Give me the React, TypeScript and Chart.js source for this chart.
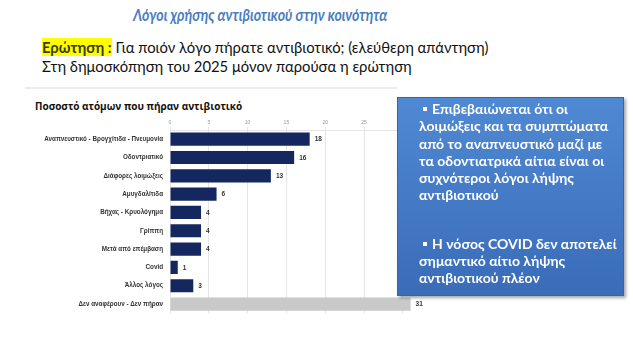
import { useEffect, useRef } from "react";
import { Chart, registerables } from "chart.js";

Chart.register(...registerables);

const categories = [
  "Αναπνευστικό - Βρογχίτιδα - Πνευμονία",
  "Οδοντριατικό",
  "Διάφορες λοιμώξεις",
  "Αμυγδαλίτιδα",
  "Βήχας - Κρυολόγημα",
  "Γρίππη",
  "Μετά από επέμβαση",
  "Covid",
  "Άλλος λόγος",
  "Δεν αναφέρουν - Δεν πήραν",
];
const values = [18, 16, 13, 6, 4, 4, 4, 1, 3, 31];
const xMax = 35;
const xStep = 5;

const pageTitle = "Λόγοι χρήσης αντιβιοτικού στην κοινότητα";
const questionLabel = "Ερώτηση :";
const questionText = " Για ποιόν λόγο πήρατε αντιβιοτικό; (ελεύθερη απάντηση)";
const questionNote = "Στη δημοσκόπηση του 2025 μόνον παρούσα η ερώτηση";
const chartTitle = "Ποσοστό ατόμων που πήραν αντιβιοτικό";
const bullet1 = [
  "Επιβεβαιώνεται ότι οι",
  "λοιμώξεις και τα συμπτώματα",
  "από το αναπνευστικό μαζί με",
  "τα οδοντιατρικά αίτια είναι οι",
  "συχνότεροι λόγοι λήψης",
  "αντιβιοτικού",
];
const bullet2 = [
  "Η νόσος COVID δεν αποτελεί",
  "σημαντικό αίτιο λήψης",
  "αντιβιοτικού πλέον",
];

const NAVY = "#14275f";
const GRAY = "#c9c9c9";

const valueLabels = {
  id: "valueLabels",
  afterDatasetsDraw(chart: any) {
    const ctx = chart.ctx;
    const meta = chart.getDatasetMeta(0);
    ctx.save();
    ctx.font = "bold 6.5px 'Liberation Sans', Arial, sans-serif";
    ctx.fillStyle = "#333333";
    ctx.textBaseline = "middle";
    ctx.textAlign = "left";
    meta.data.forEach((bar: any, i: number) => {
      ctx.fillText(String(values[i]), bar.x + 5, bar.y + 0.5);
    });
    ctx.restore();
  },
};

function BarChart() {
  const ref = useRef<HTMLCanvasElement | null>(null);
  useEffect(() => {
    if (!ref.current) return;
    const chart = new Chart(ref.current, {
      type: "bar",
      data: {
        labels: categories,
        datasets: [
          {
            data: values,
            backgroundColor: values.map((_, i) => (i === values.length - 1 ? GRAY : NAVY)),
            borderWidth: 0,
            categoryPercentage: 0.8,
            barPercentage: 0.9,
          },
        ],
      },
      options: {
        indexAxis: "y",
        animation: false,
        responsive: false,
        maintainAspectRatio: false,
        layout: { padding: { left: 0, right: 18.4, top: 0, bottom: 2 } },
        plugins: {
          legend: { display: false },
          tooltip: { enabled: false },
          title: { display: false },
        },
        scales: {
          x: {
            position: "top",
            min: 0,
            max: xMax,
            ticks: {
              stepSize: xStep,
              font: { size: 5, family: "'Liberation Sans', Arial, sans-serif" },
              color: "#9a9a9a",
              padding: 1,
              callback: (v: any) => (v === xMax ? "" : String(v)),
            },
            grid: {
              color: (c: any) => (c.tick && c.tick.value === xMax ? "rgba(0,0,0,0)" : "#e6e6e6"),
              tickLength: 3,
              lineWidth: 1,
            },
            border: { display: true, color: "#e6e6e6" },
            afterFit: (s: any) => {
              s.height = 12;
            },
          },
          y: {
            ticks: {
              font: { size: 6.3, weight: "bold", family: "'Liberation Sans', Arial, sans-serif" },
              color: "#333333",
              padding: 7,
            },
            grid: { display: false, drawTicks: false },
            border: { display: false },
            afterFit: (s: any) => {
              s.width = 150;
            },
          },
        },
      },
      plugins: [valueLabels],
    });
    return () => chart.destroy();
  }, []);
  return (
    <canvas
      ref={ref}
      width={440}
      height={206}
      style={{ position: "absolute", left: 20, top: 118, width: 440, height: 206 }}
    />
  );
}

const boxFont = "Lato, 'Noto Sans', sans-serif";

function Bullet({ lines }: { lines: string[] }) {
  return (
    <div>
      {lines.map((l, i) => (
        <div key={i} style={{ whiteSpace: "nowrap", paddingLeft: i === 0 ? 4 : 0 }}>
          {i === 0 && (
            <span
              style={{
                display: "inline-block",
                width: 4,
                height: 4,
                background: "#ffffff",
                marginRight: 5,
                verticalAlign: "middle",
                position: "relative",
                top: -1,
              }}
            />
          )}
          {l}
        </div>
      ))}
    </div>
  );
}

export default function App() {
  return (
    <div
      style={{
        position: "fixed",
        left: 0,
        top: 0,
        width: 633,
        height: 346,
        background: "#ffffff",
        overflow: "hidden",
      }}
    >
      <div
        style={{
          position: "absolute",
          left: 133,
          top: 3,
          fontFamily: boxFont,
          fontWeight: 700,
          fontStyle: "italic",
          fontSize: 17.5,
          lineHeight: "23px",
          color: "#4a7dc0",
          whiteSpace: "nowrap",
          transform: "scaleX(0.81)",
          transformOrigin: "0 0",
        }}
      >
        {pageTitle}
      </div>
      <div
        style={{
          position: "absolute",
          left: 42,
          top: 38,
          fontFamily: boxFont,
          fontSize: 14.8,
          lineHeight: "19px",
          color: "#111111",
          whiteSpace: "nowrap",
        }}
      >
        <div>
          <span style={{ background: "#ffff00", fontWeight: 700, color: "#3b3b10" }}>{questionLabel}</span>
          {questionText}
        </div>
        <div>{questionNote}</div>
      </div>
      <div style={{ position: "absolute", left: 25, top: 87, width: 372, height: 2, background: "#ececec" }} />
      <div
        style={{
          position: "absolute",
          left: 35,
          top: 98,
          fontFamily: "'Open Sans', sans-serif",
          fontWeight: 700,
          fontSize: 10,
          lineHeight: "16px",
          color: "#111111",
          whiteSpace: "nowrap",
        }}
      >
        {chartTitle}
      </div>
      <BarChart />
      <div
        style={{
          position: "absolute",
          left: 397,
          top: 97,
          width: 227,
          height: 199,
          boxSizing: "border-box",
          background: "linear-gradient(#5089d3, #3a6cb8)",
          border: "1px solid #3764a8",
          boxShadow: "2px 2px 3px rgba(0,0,0,0.35)",
          padding: "2px 0 0 21px",
          fontFamily: boxFont,
          fontWeight: 700,
          fontSize: 14,
          lineHeight: "17.3px",
          color: "#ffffff",
        }}
      >
        <Bullet lines={bullet1} />
        <div style={{ height: 31 }} />
        <Bullet lines={bullet2} />
      </div>
    </div>
  );
}
